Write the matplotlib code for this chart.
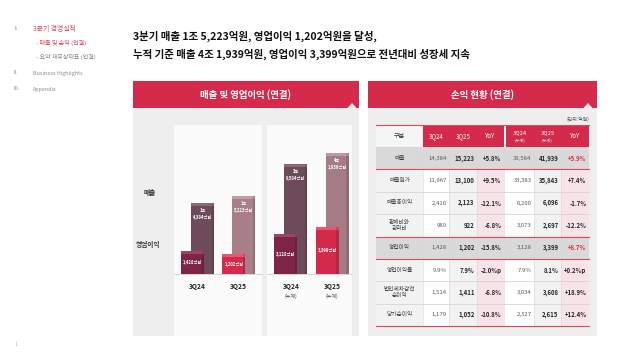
import numpy as np
import matplotlib.pyplot as plt
from matplotlib.patches import Rectangle, Polygon

plt.rcParams['font.family'] = ['Noto Sans CJK KR', 'DejaVu Sans']

# bar chart data (quarterly, then cumulative)
periods = ["3Q24", "3Q25", "3Q24", "3Q25"]
period_note = ["", "", "(누계)", "(누계)"]
revenue = [14384, 15223, 39584, 41939]      # 억원
op_income = [1428, 1202, 3128, 3399]        # 억원
# drawn bar heights (not to scale)
revenue_drawn = [71, 78, 110, 121]
op_drawn = [23, 20, 40, 47]

# income statement table
table_rows = ["매출", "매출원가", "매출총이익", "판매비와\n관리비", "영업이익",
              "영업이익률", "법인세차감전\n순이익", "당기순이익"]
table_header = ["구분", "3Q24", "3Q25", "YoY", "3Q24\n(누계)", "3Q25\n(누계)", "YoY"]
col_3q24 = ["14,384", "11,967", "2,416", "989", "1,428", "9.9%", "1,514", "1,179"]
col_3q25 = ["15,223", "13,100", "2,123", "922", "1,202", "7.9%", "1,411", "1,052"]
col_yoy = ["+5.8%", "+9.5%", "-12.1%", "-6.8%", "-15.8%", "-2.0%p", "-6.8%", "-10.8%"]
col_cum24 = ["39,584", "33,383", "6,200", "3,073", "3,128", "7.9%", "3,034", "2,327"]
col_cum25 = ["41,939", "35,843", "6,096", "2,697", "3,399", "8.1%", "3,608", "2,615"]
col_cum_yoy = ["+5.9%", "+7.4%", "-1.7%", "-12.2%", "+8.7%", "+0.2%p", "+18.9%", "+12.4%"]

RED = "#d42a4c"
PINK = "#d6475f"
PANEL = "#eeeeee"
GREY_TXT = "#8c8c8c"

fig = plt.figure(figsize=(6.4, 3.59), dpi=100)
ax = fig.add_axes([0, 0, 1, 1])
ax.set_xlim(0, 640)
ax.set_ylim(359, 0)
ax.axis("off")


def box(x0, y0, x1, y1, color, z=1):
    ax.add_patch(Rectangle((x0, y0), x1 - x0, y1 - y0, facecolor=color,
                           edgecolor="none", zorder=z))


# sidebar
ax.text(14, 29, "I.", color=PINK, fontsize=4.3, va="center")
ax.text(33, 29, "3분기 경영실적", color=PINK, fontsize=4.9, va="center")
ax.text(36, 43, "- 매출 및 손익 (연결)", color=PINK, fontsize=4.3, va="center")
ax.text(36, 57, "- 요약 재무상태표 (연결)", color=GREY_TXT, fontsize=4.3, va="center")
ax.text(14, 73, "II.", color=GREY_TXT, fontsize=4, va="center")
ax.text(33, 73, "Business Highlights", color=GREY_TXT, fontsize=3.9, va="center")
ax.text(14, 89, "III.", color=GREY_TXT, fontsize=4, va="center")
ax.text(33, 89, "Appendix", color=GREY_TXT, fontsize=3.9, va="center")
ax.text(15, 345, "1", color="#c8a8a8", fontsize=3.5, va="center")

# headline
ax.text(133, 36, "3분기 매출 1조 5,223억원, 영업이익 1,202억원을 달성,",
        fontsize=7.55, fontweight="bold", color="#111111", va="center")
ax.text(133, 54, "누적 기준 매출 4조 1,939억원, 영업이익 3,399억원으로 전년대비 성장세 지속",
        fontsize=7.55, fontweight="bold", color="#111111", va="center")

# panels
for x0, x1, title, notch in [(133, 359, "매출 및 영업이익 (연결)", 352),
                             (368, 597, "손익 현황 (연결)", 588)]:
    box(x0, 108, x1, 336, PANEL)
    box(x0, 81, x1, 108, RED)
    ax.add_patch(Polygon([(notch - 5, 108.5), (notch, 103), (notch + 5, 108.5)],
                         closed=True, facecolor=PANEL, edgecolor="none", zorder=2))
    ax.text((x0 + x1) / 2, 95, title, color="white", fontsize=6.8,
            fontweight="bold", ha="center", va="center", zorder=3)

# white boxes behind the bars
for x0, x1 in [(174, 262), (267, 352)]:
    box(x0, 125, x1, 336, "#fbfbfb", z=2)
    ax.plot([x0, x1], [274, 274], color="#cfcfcf", lw=0.6, zorder=3)

ax.text(150, 193, "매출", fontsize=4.8, fontweight="bold", color="#333333",
        ha="center", va="center", zorder=3)
ax.text(148, 244, "영업이익", fontsize=4.8, fontweight="bold", color="#333333",
        ha="center", va="center", zorder=3)

# bars
bx = fig.add_axes([170 / 640, 1 - 274 / 359, 186 / 640, 144 / 359])
bx.set_xlim(-0.787, 3.717)
bx.set_ylim(0, 144)
bx.axis("off")
bx.patch.set_alpha(0)

pos = np.arange(len(periods)) + np.array([0, 0, 1, 1]) * 0.26
w = 0.557
off = -0.242
rev_cols = ["#6e4b58", "#a87e88", "#6e4b58", "#a57c86"]
rev_caps = ["#8a6a76", "#c29ba4", "#8a6a76", "#c09aa3"]
op_cols = ["#7d2447", "#d42a4c", "#7d2447", "#d42a4c"]
op_caps = ["#9c4466", "#e8566f", "#9c4466", "#e8566f"]

bx.bar(pos, revenue_drawn, width=w, color=rev_cols, zorder=2)
bx.bar(pos, 3, bottom=np.array(revenue_drawn) - 3, width=w, color=rev_caps, zorder=3)
bx.bar(pos + w / 2 - 0.03, revenue_drawn, width=0.06, color="black", alpha=0.12, zorder=3)
bx.bar(pos + off, op_drawn, width=w, color=op_cols, zorder=4)
bx.bar(pos + off, 3, bottom=np.array(op_drawn) - 3, width=w, color=op_caps, zorder=5)
bx.bar(pos + off + w / 2 - 0.03, op_drawn, width=0.06, color="black", alpha=0.12, zorder=5)

for i, p in enumerate(pos):
    r = revenue[i]
    bx.text(p, revenue_drawn[i] - 5, f"{r // 10000}조\n{r % 10000:,}억원",
            color="white", fontsize=3, fontweight="bold", ha="center", va="top",
            linespacing=1.4, zorder=6)
    bx.text(p + off, op_drawn[i] / 2, f"{op_income[i]:,}억원", color="white",
            fontsize=3, fontweight="bold", ha="center", va="center", zorder=6)
    bx.text(p + off / 2, -13, periods[i], color="#222222", fontsize=4.8,
            fontweight="bold", ha="center", va="center", clip_on=False)
    if period_note[i]:
        bx.text(p + off / 2, -22, period_note[i], color="#444444", fontsize=3.6,
                ha="center", va="center", clip_on=False)

# table
ax.text(589, 119, "(단위:억원)", fontsize=3.5, color="#555555", ha="right",
        va="center", zorder=3)
cx0 = [376, 423, 449, 477, 506, 534, 561]
cx1 = [423, 449, 477, 504, 534, 561, 589]
top, hh, rh = 125, 22, 22.4
body_bg = ["#f2f2f2", "white", "#f2f2f2", "#f8e4e8", "white", "#f2f2f2", "#f8e4e8"]
highlight = [0, 4]

# header row
box(376, top, 589, top + hh, "white", z=2)
for j, label in enumerate(table_header):
    c = "#f5f5f5" if j == 0 else RED
    box(cx0[j], top, cx1[j], top + hh, c, z=3)
    if "\n" in label:
        a, b = label.split("\n")
        ax.text((cx0[j] + cx1[j]) / 2, top + hh / 2 - 3, a, color="white",
                fontsize=4.2, ha="center", va="center", zorder=4)
        ax.text((cx0[j] + cx1[j]) / 2, top + hh / 2 + 4, b, color="white",
                fontsize=3, ha="center", va="center", zorder=4)
    else:
        ax.text((cx0[j] + cx1[j]) / 2, top + hh / 2, label,
                color="#333333" if j == 0 else "white", fontsize=4.4,
                ha="center", va="center", zorder=4)

columns = [col_3q24, col_3q25, col_yoy, col_cum24, col_cum25, col_cum_yoy]
for i, name in enumerate(table_rows):
    y0 = top + hh + i * rh
    y1 = y0 + rh
    hl = i in highlight
    box(376, y0, 589, y1, "#d9d9d9" if hl else "white", z=2)
    for j in range(7):
        box(cx0[j], y0, cx1[j], y1, "#d9d9d9" if hl else body_bg[j], z=3)
    ax.text((cx0[0] + cx1[0]) / 2, (y0 + y1) / 2, name, color="#404040",
            fontsize=4.1, ha="center", va="center", linespacing=1.3, zorder=4)
    for k, col in enumerate(columns):
        j = k + 1
        bold = k not in (0, 3)
        color = "#262626" if bold else "#5a5a5a"
        if k == 5 and hl:
            color = "#e8283c"
        ax.text(cx1[j] - 2.5, (y0 + y1) / 2, col[i], color=color, fontsize=4.3,
                fontweight="bold" if bold else "normal", ha="right", va="center",
                zorder=4)
    ax.plot([376, 589], [y1, y1], color="#d0d0d0", lw=0.5, zorder=5)

# vertical separators in the body
body_top = top + hh
body_bot = top + hh + len(table_rows) * rh
for x in cx1[:-1]:
    ax.plot([x, x], [body_top, body_bot], color="#d6d6d6", lw=0.4, zorder=5)

# red rules
for y in [top, body_top + rh, body_top + 4 * rh, body_top + 5 * rh, body_bot]:
    ax.plot([376, 589], [y, y], color="#dc4a62", lw=0.8, zorder=6)

fig.savefig("out.png", dpi=100)
